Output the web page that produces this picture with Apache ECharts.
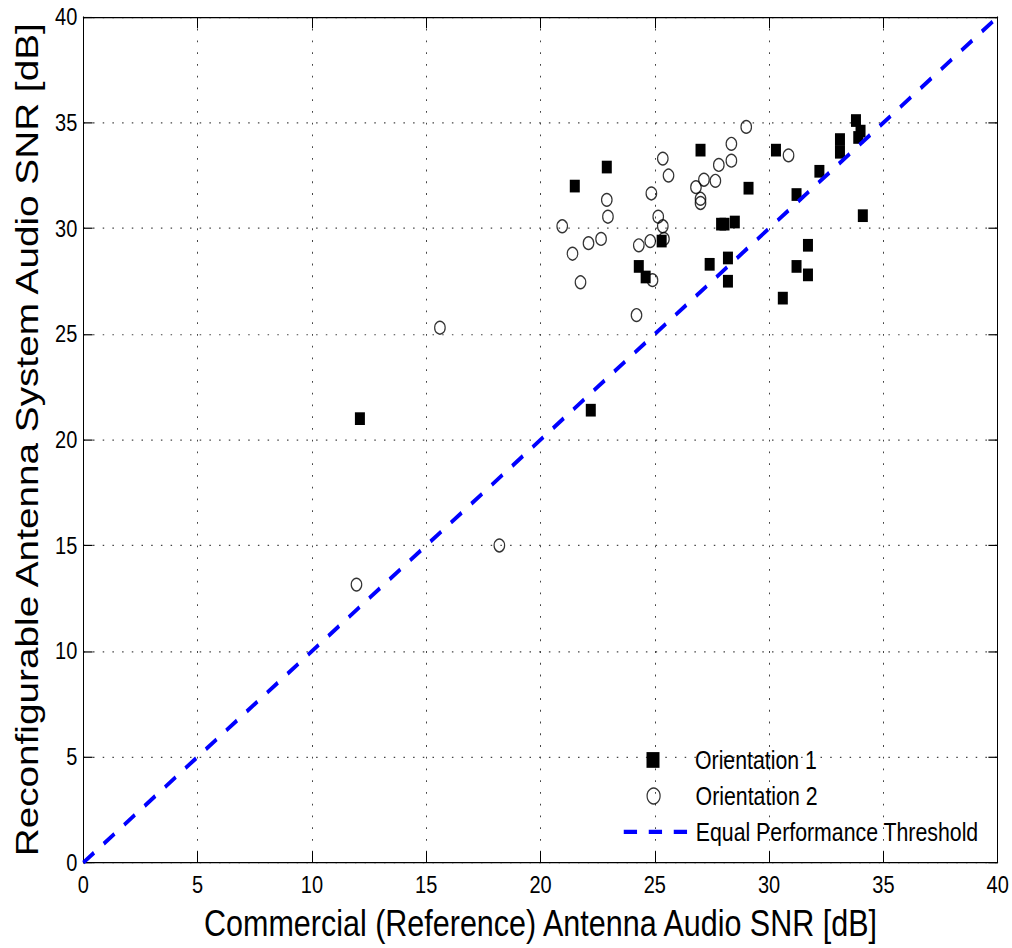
<!DOCTYPE html>
<html>
<head>
<meta charset="utf-8">
<script src="https://cdn.jsdelivr.net/npm/echarts@6/dist/echarts.min.js"></script>
<style>
  html, body { margin: 0; padding: 0; background: #ffffff; }
  #page { position: relative; width: 1012px; height: 948px; overflow: hidden; background: #ffffff; }
  /* the figure is laid out in a shorter box and stretched vertically */
  #chart { position: absolute; left: 0; top: 0; width: 1012px; height: 783px;
           transform: scaleY(1.2107); transform-origin: 0 0; }
</style>
</head>
<body>
<div id="page"><div id="chart"></div></div>
<script>
// Orientation 1 measurements (filled squares): commercial SNR vs reconfigurable SNR, dB
const orient1X = [22.9, 21.5, 27.0, 29.1, 27.9, 28.05, 28.5, 25.3, 24.3, 24.6, 27.4, 28.2, 28.2,
                  30.3, 33.8, 34.0, 33.9, 33.1, 33.1, 32.2, 31.2, 34.1, 31.7, 31.2, 31.7, 30.6,
                  12.1, 22.2];
const orient1Y = [32.9, 32.0, 33.7, 31.9, 30.2, 30.2, 30.3, 29.4, 28.2, 27.7, 28.3, 28.6, 27.5,
                  33.7, 35.1, 34.6, 34.3, 34.2, 33.6, 32.7, 31.6, 30.6, 29.2, 28.2, 27.8, 26.7,
                  21.0, 21.4];

// Orientation 2 measurements (open circles)
const orient2X = [29.0, 28.35, 28.35, 27.8, 25.35, 25.6, 27.15, 27.65, 26.8, 27.0, 27.0, 24.85,
                  22.9, 22.95, 25.15, 25.35, 25.4, 20.95, 21.4, 22.1, 22.65, 21.75, 24.3, 24.8,
                  24.9, 24.2, 30.85, 15.6, 18.2, 11.95];
const orient2Y = [34.8, 34.0, 33.2, 33.0, 33.3, 32.5, 32.3, 32.25, 31.95, 31.4, 31.2, 31.65,
                  31.35, 30.55, 30.55, 30.1, 29.5, 30.1, 28.8, 29.3, 29.5, 27.45, 29.2, 29.4,
                  27.55, 25.9, 33.45, 25.3, 15.0, 13.15];

// Equal performance threshold: y = x across the axis range
const thresholdX = [0, 40];
const thresholdY = [0, 40];

const axisMin = 0, axisMax = 40, axisStep = 5;

const seriesNames = ['Orientation 1', 'Orientation 2', 'Equal Performance Threshold'];
const xTitle = 'Commercial (Reference) Antenna Audio SNR [dB]';
const yTitle = 'Reconfigurable Antenna System Audio SNR [dB]';

const pairs = (xs, ys) => xs.map((x, i) => [x, ys[i]]);

const FONT = "'Liberation Sans', Arial, Helvetica, sans-serif";
const gridDots = { color: '#444444', width: 1, type: [1.5, 8.2] };
const tickIn = { show: true, inside: true, length: 9.3, lineStyle: { color: '#000', width: 1 } };
const frameLine = { show: true, onZero: false, lineStyle: { color: '#000', width: 1 } };
const legendText = { fontFamily: FONT, fontSize: 21.3, color: '#000' };

const chart = echarts.init(document.getElementById('chart'), null, { renderer: 'svg' });

chart.setOption({
  animation: false,
  backgroundColor: '#ffffff',
  grid: { left: 83.3, right: 14.3, top: 14.0, bottom: 67.1, containLabel: false },
  xAxis: [
    {
      type: 'value', min: axisMin, max: axisMax, interval: axisStep, position: 'bottom',
      name: xTitle, nameLocation: 'middle', nameGap: 34.5,
      nameTextStyle: { fontFamily: FONT, fontSize: 30.5, color: '#000' },
      axisLine: frameLine, axisTick: tickIn,
      axisLabel: { fontFamily: FONT, fontSize: 20, color: '#000', margin: 8 },
      splitLine: { show: true, lineStyle: gridDots }
    },
    {
      type: 'value', min: axisMin, max: axisMax, interval: axisStep, position: 'top',
      axisLine: frameLine, axisTick: tickIn, axisLabel: { show: false }, splitLine: { show: false }
    }
  ],
  yAxis: [
    {
      type: 'value', min: axisMin, max: axisMax, interval: axisStep, position: 'left',
      name: yTitle, nameLocation: 'middle', nameGap: 40,
      nameTextStyle: { fontFamily: FONT, fontSize: 32, color: '#000' },
      axisLine: frameLine, axisTick: tickIn,
      axisLabel: { fontFamily: FONT, fontSize: 20, color: '#000', margin: 6 },
      splitLine: { show: true, lineStyle: gridDots }
    },
    {
      type: 'value', min: axisMin, max: axisMax, interval: axisStep, position: 'right',
      axisLine: frameLine, axisTick: tickIn, axisLabel: { show: false }, splitLine: { show: false }
    }
  ],
  legend: [
    {
      data: [seriesNames[0]], left: 646.5, top: 617.2, padding: 0,
      itemWidth: 13, itemHeight: 13, icon: 'rect', selectedMode: false,
      textStyle: Object.assign({ padding: [0, 0, 0, 30.5] }, legendText)
    },
    {
      data: [{
        name: seriesNames[1], icon: 'circle',
        itemStyle: { color: 'rgba(0,0,0,0)', borderColor: '#000', borderWidth: 1.2 }
      }],
      left: 646.5, top: 647, padding: 0, itemWidth: 13, itemHeight: 13, selectedMode: false,
      textStyle: Object.assign({ padding: [0, 0, 0, 30.5] }, legendText)
    },
    {
      data: [seriesNames[2]], left: 622, top: 676.7, padding: 0,
      itemWidth: 64, itemHeight: 13, selectedMode: false,
      itemStyle: { opacity: 0 },
      lineStyle: { color: '#0000ff', width: 3.5, type: [13.3, 11.7], opacity: 1 },
      textStyle: Object.assign({ padding: [0, 0, 0, 3] }, legendText)
    }
  ],
  series: [
    {
      name: seriesNames[1], type: 'scatter', xAxisIndex: 0, yAxisIndex: 0,
      data: pairs(orient2X, orient2Y),
      symbol: 'circle', symbolSize: 10.5,
      itemStyle: { color: 'rgba(0,0,0,0)', borderColor: '#000', borderWidth: 1.2 },
      z: 2
    },
    {
      name: seriesNames[0], type: 'scatter', xAxisIndex: 0, yAxisIndex: 0,
      data: pairs(orient1X, orient1Y),
      symbol: 'rect', symbolSize: [10, 10.5],
      itemStyle: { color: '#000', opacity: 1 },
      z: 3
    },
    {
      name: seriesNames[2], type: 'line', xAxisIndex: 0, yAxisIndex: 0,
      data: pairs(thresholdX, thresholdY),
      symbol: 'none', silent: true,
      lineStyle: { color: '#0000ff', width: 3.5, type: [13.5, 12.2] },
      z: 4
    }
  ]
});
</script>
</body>
</html>
